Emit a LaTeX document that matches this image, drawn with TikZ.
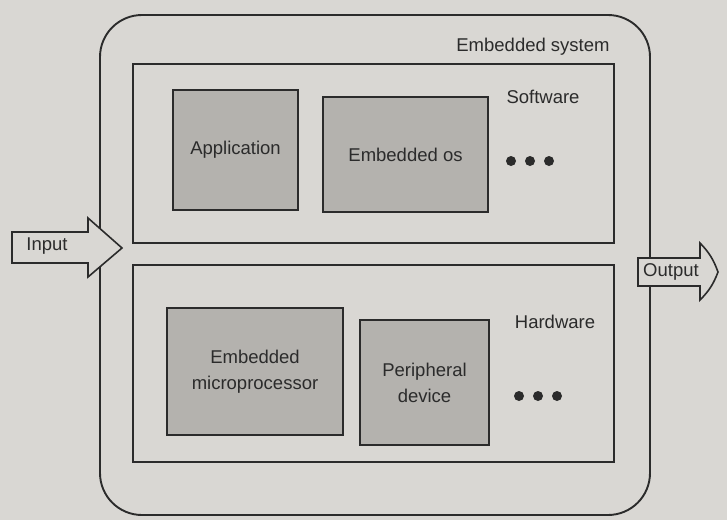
\documentclass[tikz,border=0pt]{standalone}
\usepackage{fontspec}
\setmainfont{Liberation Sans}
\definecolor{paper}{HTML}{D9D7D3}
\definecolor{shade}{HTML}{B4B2AE}
\definecolor{ink}{HTML}{2B2B2B}
\begin{document}
\begin{tikzpicture}[x=1pt,y=-1pt,
  every node/.style={text=ink},
  frame/.style={draw=ink,line width=1.6pt},
  block/.style={frame,fill=shade,align=center,font=\fontsize{18.5}{26}\selectfont,inner sep=0pt},
  caption/.style={font=\fontsize{18.5}{21}\selectfont,inner sep=0pt},
  dot/.style={circle,fill=ink,inner sep=0pt,minimum size=10pt},
  flow/.style={frame,fill=paper,line join=miter}]
  % page
  \fill[paper] (0,0) rectangle (727,520);
  \useasboundingbox (0,0) rectangle (727,520);

  % outer system frame
  \draw[frame,line width=1.9pt,rounded corners=42pt] (100,15) rectangle (650,515);
  \node[caption] (sys) at (533,47) {Embedded system};

  % software layer
  \node[frame,minimum width=481pt,minimum height=179pt,inner sep=0pt] (sw) at (373.5,153.5) {};
  \node[caption] (swl) at (543,97) {Software};
  \node[block,minimum width=125pt,minimum height=120pt] (app) at (235.5,150) {Application};
  \node[block,minimum width=165pt,minimum height=115pt] (os) at (405.5,154.5) {Embedded os};
  \node[dot] (sd1) at (511,161) {};
  \node[dot] (sd2) at (530,161) {};
  \node[dot] (sd3) at (549,161) {};

  % hardware layer
  \node[frame,minimum width=481pt,minimum height=197pt,inner sep=0pt] (hw) at (373.5,363.5) {};
  \node[caption] (hwl) at (555,322) {Hardware};
  \node[block,minimum width=176pt,minimum height=127pt] (cpu) at (255,371.5) {Embedded\\microprocessor};
  \node[block,minimum width=129pt,minimum height=125pt] (dev) at (424.5,382.5) {Peripheral\\device};
  \node[dot] (hd1) at (519,396) {};
  \node[dot] (hd2) at (538,396) {};
  \node[dot] (hd3) at (557,396) {};

  % input and output arrows
  \draw[flow] (12,232) -- (88,232) -- (88,218) -- (122,248) -- (88,277) -- (88,263) -- (12,263) -- cycle;
  \node[caption] (in) at (47,246) {Input};
  \draw[flow] (638,258) -- (700,258) -- (700,243) to[bend left=12] (718,272) to[bend left=12] (700,300) -- (700,286) -- (638,286) -- cycle;
  \node[caption] (out) at (671,272) {Output};
\end{tikzpicture}
\end{document}
